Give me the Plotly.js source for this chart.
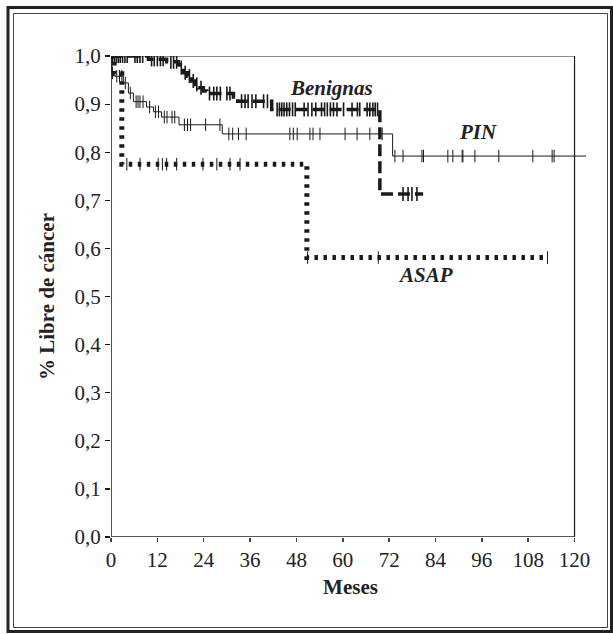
<!DOCTYPE html>
<html>
<head>
<meta charset="utf-8">
<script src="https://cdn.plot.ly/plotly-3.0.1.min.js"></script>
<style>
  html, body { margin: 0; padding: 0; background: #fff; }
  #chart { width: 613px; height: 634px; }
</style>
</head>
<body>
<div id="chart"></div>
<script>
// ---- Data ----
// Benignas: step times (months) and survival
const benTimes = [0, 9.7, 14.4, 17.4, 17.9, 18.7, 19.8, 20.9, 21.8, 22.6, 23.9, 24.8, 31.7, 32.8, 41.6, 69.6];
const benSurv  = [1.0, 0.993, 0.988, 0.982, 0.976, 0.965, 0.958, 0.948, 0.941, 0.934, 0.927, 0.922, 0.915, 0.906, 0.889, 0.713];
const benEnd = 80.8;
const benCens = [0.4, 0.9, 1.4, 1.9, 2.4, 3.0, 3.6, 4.2, 6.2, 6.8, 7.5, 8.2, 10.5, 11.2, 12.0, 12.8, 13.5,
  15.5, 16.2, 17.0, 18.2, 19.2, 20.3, 21.3, 22.2, 23.3, 25.5, 26.6, 27.4, 28.3, 30.0, 30.8,
  33.8, 34.7, 35.5, 36.5, 37.5, 39.5, 40.5, 43.0, 43.6, 44.2, 44.8, 45.5, 46.2, 47.0, 47.7,
  50.0, 51.0, 52.0, 53.0, 54.5, 55.3, 56.0, 56.8, 57.6, 58.5, 60.2, 62.4, 63.8, 64.4,
  66.3, 67.0, 67.8, 68.4, 69.0, 75.6, 76.9, 77.9, 79.2];

// PIN
const pinTimes = [0, 0.2, 1.0, 3.2, 4.5, 5.8, 9.2, 11.0, 13.1, 17.6, 28.8, 72.9];
const pinSurv  = [1.0, 0.965, 0.958, 0.944, 0.923, 0.905, 0.894, 0.884, 0.873, 0.857, 0.838, 0.792];
const pinEnd = 123;
const pinCens = [0.4, 1.5, 2.2, 2.8, 3.7, 5.0, 6.5, 7.0, 7.5, 8.3, 10.0, 11.5, 12.3, 13.8, 14.5, 15.8, 16.5,
  19.0, 19.8, 20.6, 24.5, 28.2, 30.5, 31.5, 33.0, 35.0, 46.3, 47.2, 48.2, 51.5, 52.3, 54.1,
  60.6, 63.7, 67.0, 70.2, 73.5, 75.6, 80.5, 80.9, 87.2, 88.5, 90.9, 91.1, 94.2, 100.4,
  109.2, 114.2, 114.7];

// ASAP
const asapTimes = [0, 0.8, 2.8, 50.7];
const asapSurv  = [1.0, 0.963, 0.775, 0.581];
const asapEnd = 113;
const asapCens = [4.1, 7.5, 12.2, 13.3, 14.4, 17.0, 23.8, 27.4, 30.8, 33.4, 50.9, 69.2, 113];

// Axis ticks
const xTicks = [0, 12, 24, 36, 48, 60, 72, 84, 96, 108, 120];
const yTicks = [0, 0.1, 0.2, 0.3, 0.4, 0.5, 0.6, 0.7, 0.8, 0.9, 1.0];
const yTickText = ["0,0", "0,1", "0,2", "0,3", "0,4", "0,5", "0,6", "0,7", "0,8", "0,9", "1,0"];

// Labels
const curveLabels = [
  {text: "Benignas", x: 57, y: 0.933},
  {text: "PIN", x: 95, y: 0.843},
  {text: "ASAP", x: 81.5, y: 0.545}
];

// ---- helpers ----
function stepAt(times, surv, t) {
  let v = surv[0];
  for (let i = 0; i < times.length; i++) { if (times[i] <= t) v = surv[i]; }
  return v;
}
function curve(times, surv, end) {
  return { x: times.concat([end]), y: surv.concat([surv[surv.length - 1]]) };
}

const FONT = "Liberation Serif, Times New Roman, serif";
const INK = "#1a1a1a";

const ben = curve(benTimes, benSurv, benEnd);
const pin = curve(pinTimes, pinSurv, pinEnd);
const asap = curve(asapTimes, asapSurv, asapEnd);

const mark = (w, s) => ({symbol: "line-ns-open", size: s, color: INK, line: {color: INK, width: w}});

const traces = [
  { x: pin.x, y: pin.y, mode: "lines", line: {shape: "hv", color: INK, width: 1} },
  { x: pinCens, y: pinCens.map(t => stepAt(pinTimes, pinSurv, t)), mode: "markers", marker: mark(1, 9) },
  { x: asap.x, y: asap.y, mode: "lines", line: {shape: "hv", color: INK, width: 5, dash: "3.5px,5.5px"} },
  { x: asapCens, y: asapCens.map(t => stepAt(asapTimes, asapSurv, t)), mode: "markers", marker: mark(1, 9) },
  { x: ben.x, y: ben.y, mode: "lines", line: {shape: "hv", color: INK, width: 3.5, dash: "12px,5px"} },
  { x: benCens, y: benCens.map(t => stepAt(benTimes, benSurv, t)), mode: "markers", marker: mark(1.6, 10) }
];

const L = 111, R = 23, T = 56, B = 97, W = 613, H = 634;
const PW = W - L - R, PH = H - T - B;
const px = v => (v - L) / PW;
const py = v => (H - B - v) / PH;

const shapes = [
  // plot frame
  {type: "line", xref: "x", yref: "y", x0: 0, x1: 120, y0: 1, y1: 1, line: {color: INK, width: 1}},
  {type: "line", xref: "x", yref: "y", x0: 120, x1: 120, y0: 0, y1: 1, line: {color: INK, width: 1.2}},
  {type: "line", xref: "x", yref: "y", x0: 0, x1: 0, y0: 0, y1: 1, line: {color: INK, width: 1.5}},
  {type: "line", xref: "x", yref: "y", x0: 0, x1: 120, y0: 0, y1: 0, line: {color: "#555", width: 2}},
  // double outer border
  {type: "rect", xref: "paper", yref: "paper", x0: px(8), x1: px(611.5), y0: py(631.5), y1: py(7.5),
   line: {color: "#222", width: 3}},
  {type: "rect", xref: "paper", yref: "paper", x0: px(13.5), x1: px(607.5), y0: py(627.5), y1: py(13.5),
   line: {color: "#444", width: 1}}
];

const annotations = curveLabels.map(a => ({
  x: a.x, y: a.y, xref: "x", yref: "y", text: "<b><i>" + a.text + "</i></b>", showarrow: false,
  font: {family: FONT, size: 21, color: "#222"}
}));

const layout = {
  width: W, height: H,
  margin: {l: L, r: R, t: T, b: B, pad: 0},
  paper_bgcolor: "#fff", plot_bgcolor: "#fff",
  showlegend: false,
  xaxis: {
    range: [0, 124], tickvals: xTicks, ticktext: xTicks.map(String),
    showgrid: false, zeroline: false, showline: false,
    ticks: "outside", ticklen: 4, tickwidth: 1.5, tickcolor: "#444",
    tickfont: {family: FONT, size: 21, color: "#222"},
    title: {text: "<b>Meses</b>", font: {family: FONT, size: 21, color: "#222"}, standoff: 8}
  },
  yaxis: {
    range: [0, 1], tickvals: yTicks, ticktext: yTickText,
    showgrid: false, zeroline: false, showline: false,
    ticks: "outside", ticklen: 5, tickwidth: 1.2, tickcolor: INK,
    tickfont: {family: FONT, size: 21, color: "#222"},
    title: {text: "<b>% Libre de cáncer</b>", font: {family: FONT, size: 21, color: "#222"}, standoff: 14}
  },
  shapes: shapes,
  annotations: annotations
};

Plotly.newPlot("chart", traces, layout, {displayModeBar: false, staticPlot: true});
</script>
</body>
</html>
